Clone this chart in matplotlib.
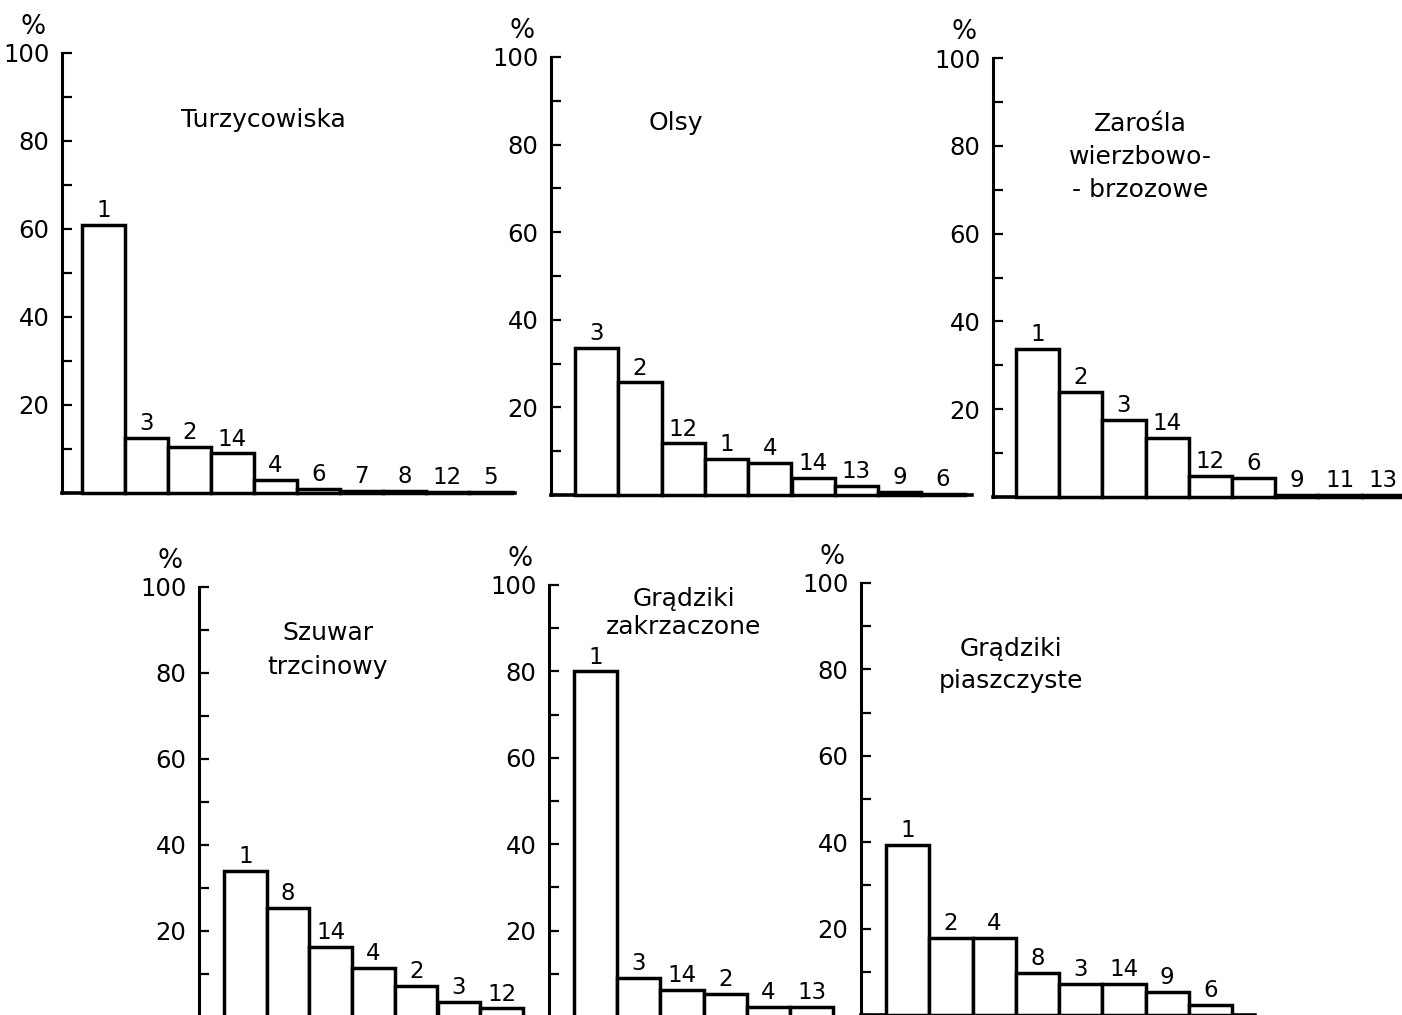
import matplotlib
matplotlib.use("Agg")
import matplotlib.pyplot as plt

plt.rcParams['font.family'] = ['DejaVu Sans']

W, H = 1402, 1015

# share (%) of the species groups in each habitat
turz_labels = ['1', '3', '2', '14', '4', '6', '7', '8', '12', '5']
turz_values = [61, 12.5, 10.5, 9, 3, 1, 0.5, 0.5, 0.3, 0.3]

olsy_labels = ['3', '2', '12', '1', '4', '14', '13', '9', '6']
olsy_values = [33.5, 25.7, 11.8, 8.2, 7.3, 3.9, 2, 0.7, 0.3]

zar_labels = ['1', '2', '3', '14', '12', '6', '9', '11', '13']
zar_values = [33.7, 23.9, 17.5, 13.4, 4.8, 4.3, 0.5, 0.4, 0.4]

szuw_labels = ['1', '8', '14', '4', '2', '3', '12']
szuw_values = [34, 25.3, 16.3, 11.4, 7.2, 3.5, 2]

gzak_labels = ['1', '3', '14', '2', '4', '13']
gzak_values = [80, 9, 6.2, 5.3, 2.3, 2.3]

gpia_labels = ['1', '2', '4', '8', '3', '14', '9', '6']
gpia_values = [39.3, 17.8, 17.8, 9.7, 7.2, 7.2, 5.3, 2.3]

fig = plt.figure(figsize=(W / 100, H / 100), dpi=100)


def panel(left, right, y100, y0, bar_start, bar_w, labels, values,
          title, tx, ty, ls=1.2):
    ax = fig.add_axes([left / W, 1 - y0 / H, (right - left) / W, (y0 - y100) / H])
    x0 = -(bar_start - left) / bar_w
    x1 = (right - bar_start) / bar_w
    xs = list(range(len(values)))
    ax.bar(xs, values, width=1, align='edge', facecolor='white',
           edgecolor='black', linewidth=2.5, zorder=3, clip_on=False)
    for x, v, lab in zip(xs, values, labels):
        ax.annotate(lab, (x + 0.5, v), xytext=(0, 2), textcoords='offset points',
                    ha='center', va='bottom', fontsize=16.5)
    ax.set_xlim(x0, x1)
    ax.set_ylim(0, 100)
    for s in ['top', 'right']:
        ax.spines[s].set_visible(False)
    ax.spines['left'].set_linewidth(2.2)
    ax.spines['bottom'].set_linewidth(2.6)
    ax.set_xticks([])
    ax.set_yticks([0, 20, 40, 60, 80, 100])
    ax.set_yticklabels(['', '20', '40', '60', '80', '100'])
    ax.set_yticks([10, 30, 50, 70, 90], minor=True)
    ax.tick_params(axis='y', which='both', direction='in', length=7.5,
                   width=1.6, labelsize=17.5, pad=9)
    ax.annotate('%', (0, 1), xycoords='axes fraction', xytext=(-21, 19),
                textcoords='offset points', ha='center', va='center', fontsize=19)
    fig.text(tx / W, 1 - ty / H, title, ha='center', va='center', fontsize=18,
             multialignment='center', linespacing=ls)
    return ax


panel(62, 515, 53, 493, 82, 43, turz_labels, turz_values,
      'Turzycowiska', 263, 120)
panel(551, 972, 57, 495, 575, 43.3, olsy_labels, olsy_values,
      'Olsy', 676, 123)
panel(993, 1402, 58, 497, 1016, 43.2, zar_labels, zar_values,
      'Zarośla\nwierzbowo-\n- brzozowe', 1140, 157, 1.45)
panel(199, 530, 587, 1017, 224, 42.7, szuw_labels, szuw_values,
      'Szuwar\ntrzcinowy', 328, 650, 1.5)
panel(549, 840, 585, 1017, 574, 43.2, gzak_labels, gzak_values,
      'Grądziki\nzakrzaczone', 684, 613, 1.25)
panel(861, 1255, 583, 1015, 886, 43.25, gpia_labels, gpia_values,
      'Grądziki\npiaszczyste', 1011, 665, 1.45)

fig.savefig('out.png', dpi=100, facecolor='white')
